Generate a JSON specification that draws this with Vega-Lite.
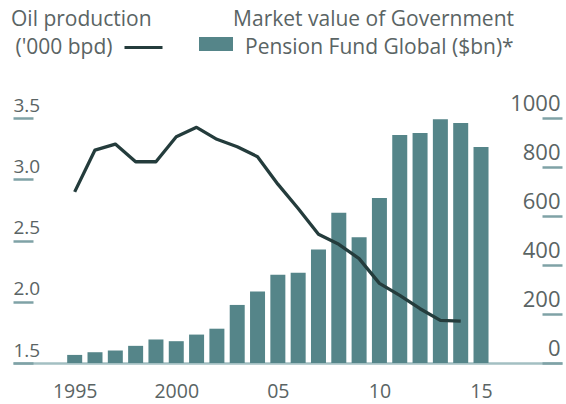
{
  "$schema": "https://vega.github.io/schema/vega-lite/v6.json",
  "width": 549,
  "height": 245,
  "autosize": {"type": "none"},
  "padding": {"left": 13, "top": 118, "right": 4, "bottom": 41},
  "background": "white",
  "config": {
    "view": {"stroke": null},
    "font": "Open Sans",
    "axis": {"labelFont": "Open Sans", "labelColor": "#5a6464", "grid": false, "title": null},
    "legend": {"labelFont": "Open Sans", "titleFont": "Open Sans", "labelLimit": 0, "titleLimit": 0}
  },
  "data": {
    "values": [
      {"year": 1995, "fund": 33, "oil": 2.897},
      {"year": 1996, "fund": 44, "oil": 3.238},
      {"year": 1997, "fund": 51, "oil": 3.287},
      {"year": 1998, "fund": 70, "oil": 3.143},
      {"year": 1999, "fund": 96, "oil": 3.143},
      {"year": 2000, "fund": 89, "oil": 3.347},
      {"year": 2001, "fund": 116, "oil": 3.424},
      {"year": 2002, "fund": 140, "oil": 3.326},
      {"year": 2003, "fund": 237, "oil": 3.265},
      {"year": 2004, "fund": 292, "oil": 3.184},
      {"year": 2005, "fund": 360, "oil": 2.96},
      {"year": 2006, "fund": 368, "oil": 2.761},
      {"year": 2007, "fund": 463, "oil": 2.551},
      {"year": 2008, "fund": 613, "oil": 2.469},
      {"year": 2009, "fund": 513, "oil": 2.352},
      {"year": 2010, "fund": 673, "oil": 2.15},
      {"year": 2011, "fund": 931, "oil": 2.052},
      {"year": 2012, "fund": 939, "oil": 1.943},
      {"year": 2013, "fund": 995, "oil": 1.848},
      {"year": 2014, "fund": 980, "oil": 1.842},
      {"year": 2015, "fund": 882, "oil": null}
    ]
  },
  "encoding": {
    "x": {
      "field": "year",
      "type": "quantitative",
      "scale": {"domain": [1992.21, 2018.74], "nice": false, "zero": false},
      "axis": {
        "orient": "bottom",
        "values": [1995, 2000, 2005, 2010, 2015],
        "format": "d",
        "labelExpr": "datum.value <= 2000 ? datum.label : substring(datum.label, 2)",
        "ticks": false,
        "domain": true,
        "domainColor": "#a3bfc2",
        "domainWidth": 2.5,
        "labelFontSize": 19.5,
        "labelPadding": 19,
        "labelFlush": false,
        "labelOverlap": false
      }
    }
  },
  "layer": [
    {
      "mark": {"type": "bar", "width": 15},
      "encoding": {
        "y": {
          "field": "fund",
          "type": "quantitative",
          "scale": {"domain": [0, 1000], "nice": false},
          "axis": {
            "orient": "right",
            "values": [0, 200, 400, 600, 800, 1000],
            "format": "d",
            "domain": false,
            "tickSize": -20,
            "tickWidth": 2.5,
            "tickColor": "#7fa2a6",
            "labelAlign": "right",
            "labelBaseline": "alphabetic",
            "labelOffset": -8,
            "labelPadding": 18,
            "labelFontSize": 22,
            "labelFlush": false,
            "labelOverlap": false
          }
        },
        "fill": {
          "datum": "Pension Fund Global ($bn)*",
          "scale": {"range": ["#558589"]},
          "legend": {
            "orient": "none",
            "legendX": 186,
            "legendY": -109,
            "title": "Market value of Government",
            "titleAnchor": "end",
            "titleFontSize": 21,
            "titleFontWeight": "normal",
            "titleColor": "#5a6464",
            "titlePadding": 1,
            "labelFontSize": 21,
            "labelColor": "#5a6464",
            "labelOffset": 12,
            "symbolType": "M-1,-0.645H1V0.175H-1Z",
            "symbolSize": 1156,
            "symbolStrokeWidth": 0,
            "symbolOpacity": 1,
            "padding": 0
          }
        }
      }
    },
    {
      "mark": {"type": "line", "strokeWidth": 3.3, "strokeJoin": "round"},
      "encoding": {
        "y": {
          "field": "oil",
          "type": "quantitative",
          "scale": {"domain": [1.5, 3.5], "nice": false, "zero": false},
          "axis": {
            "orient": "left",
            "values": [1.5, 2, 2.5, 3, 3.5],
            "format": ".1f",
            "domain": false,
            "tickSize": -20,
            "tickWidth": 2.5,
            "tickColor": "#7fa2a6",
            "labelAlign": "left",
            "labelBaseline": "alphabetic",
            "labelOffset": -7,
            "labelPadding": 20,
            "labelFontSize": 19,
            "labelFlush": false,
            "labelOverlap": false
          }
        },
        "stroke": {
          "datum": "('000 bpd)",
          "scale": {"range": ["#243c3c"]},
          "legend": {
            "orient": "none",
            "legendX": -2,
            "legendY": -109,
            "title": "Oil production",
            "titleAnchor": "start",
            "titleFontSize": 21,
            "titleFontWeight": "normal",
            "titleColor": "#5a6464",
            "titlePadding": 7,
            "labelFontSize": 21,
            "labelColor": "#5a6464",
            "labelOffset": -16.5,
            "symbolType": "M103,0H141",
            "symbolSize": 4,
            "symbolStrokeWidth": 3,
            "padding": 0
          }
        }
      }
    }
  ],
  "resolve": {"scale": {"y": "independent"}}
}
